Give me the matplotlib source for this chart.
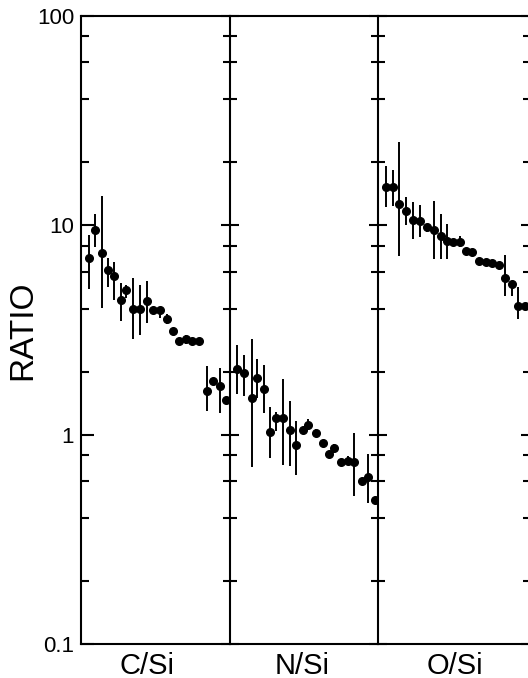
import numpy as np
import matplotlib.pyplot as plt
from matplotlib.ticker import LogLocator, FuncFormatter, NullFormatter

plt.rcParams['font.family'] = ['Liberation Sans', 'DejaVu Sans']

# panel names
names = ['C/Si', 'N/Si', 'O/Si']

# values
# x = position across its panel, v = ratio, hi / lo = ends of the error bar
c_x = [8.3, 13.7, 20.7, 27, 33.3, 39.7, 45, 51.7, 58.5, 65.7, 71.7,
       78.5, 85.7, 91.7, 98.3, 104.5, 111, 117.5, 126, 131.7, 138.5, 145]
c_v = [7.0, 9.5, 7.4, 6.1, 5.7, 4.4, 4.9, 4.0, 4.0, 4.33, 3.92,
       3.92, 3.56, 3.13, 2.81, 2.86, 2.81, 2.81, 1.62, 1.81, 1.71, 1.46]
c_hi = [8.96, 11.3, 13.8, 6.95, 6.7, 5.3, 5.2, 5.6, 5.16, 5.4, 3.92,
        4.05, 3.76, 3.13, 2.81, 3.0, 2.81, 2.81, 2.13, 1.81, 2.09, 1.46]
c_lo = [4.94, 7.9, 4.05, 5.05, 4.4, 3.5, 4.5, 2.85, 3.0, 3.43, 3.92,
        3.6, 3.37, 3.13, 2.81, 2.72, 2.81, 2.81, 1.30, 1.81, 1.27, 1.46]

n_x = [7.3, 14, 21.7, 27.3, 33.7, 39.7, 46.3, 53, 60, 66, 72.7,
       78.3, 85.7, 93, 99, 104.3, 111, 117.7, 124.3, 131.7, 138.3, 145]
n_v = [2.07, 1.96, 1.49, 1.87, 1.65, 1.03, 1.20, 1.20, 1.05, 0.89, 1.05,
       1.11, 1.02, 0.91, 0.81, 0.86, 0.74, 0.75, 0.74, 0.60, 0.63, 0.485]
n_hi = [2.67, 2.39, 2.88, 2.31, 2.15, 1.35, 1.28, 1.84, 1.45, 1.16, 1.05,
        1.19, 1.07, 0.91, 0.81, 0.90, 0.74, 0.79, 1.02, 0.60, 0.805, 0.485]
n_lo = [1.56, 1.53, 0.70, 1.50, 1.27, 0.77, 1.04, 0.72, 0.71, 0.64, 1.05,
        1.05, 0.98, 0.91, 0.81, 0.82, 0.74, 0.72, 0.51, 0.60, 0.47, 0.485]

o_x = [7.7, 14.7, 21.3, 28, 34.7, 42, 48.7, 56.3, 63, 68.7, 74.7,
       82, 88, 94.3, 101, 108, 114.3, 121, 127, 133.7, 139.7, 147]
o_v = [15.2, 15.2, 12.7, 11.7, 10.6, 10.5, 9.8, 9.5, 8.85, 8.4, 8.3,
       8.36, 7.57, 7.48, 6.78, 6.65, 6.58, 6.46, 5.6, 5.24, 4.13, 4.13]
o_hi = [19.3, 18.3, 24.9, 13.7, 12.9, 12.5, 10.2, 13.1, 11.3, 10.1, 8.3,
        8.93, 7.57, 7.48, 6.78, 6.65, 6.58, 6.46, 7.24, 5.24, 5.05, 4.13]
o_lo = [12.3, 12.4, 7.1, 10.0, 8.6, 8.8, 9.3, 6.9, 6.9, 6.9, 8.3,
        7.85, 7.57, 7.48, 6.78, 6.65, 6.58, 6.46, 4.61, 4.61, 3.56, 4.13]

panels = [(c_x, c_v, c_hi, c_lo), (n_x, n_v, n_hi, n_lo), (o_x, o_v, o_hi, o_lo)]

# figure geometry in pixels
W, H = 528, 678
edges = [81, 230, 378, 530]   # last panel runs just past the crop
top, bottom = 16, 644
label_x = [0.443, 0.484, 0.507]   # panel labels sit a bit off centre in the scan

fig = plt.figure(figsize=(W / 100, H / 100), dpi=100)

for i, (x, v, hi, lo) in enumerate(panels):
    l, r = edges[i], edges[i + 1]
    ax = fig.add_axes([l / W, (H - bottom) / H, (r - l) / W, (bottom - top) / H])
    x = np.array(x)
    v = np.array(v)
    yerr = [v - np.array(lo), np.array(hi) - v]
    ax.errorbar(x, v, yerr=yerr, fmt='o', color='black', ms=5.5,
                elinewidth=1.4, capsize=0, clip_on=False)

    ax.set_yscale('log')
    ax.set_ylim(0.1, 100)
    ax.set_xlim(0, r - l)
    ax.yaxis.set_major_locator(LogLocator(base=10))
    ax.yaxis.set_minor_locator(LogLocator(base=10, subs=[2, 4, 6, 8]))
    ax.yaxis.set_minor_formatter(NullFormatter())
    ax.set_xticks([])

    for s in ax.spines.values():
        s.set_linewidth(1.5)

    if i == 0:
        ax.yaxis.set_major_formatter(FuncFormatter(lambda val, _: f'{val:g}'))
        ax.tick_params(axis='y', which='major', direction='in', length=9,
                       width=1.5, labelsize=16, pad=5)
        ax.tick_params(axis='y', which='minor', direction='in', length=6,
                       width=1.5)
    else:
        # dividers get ticks on both sides
        ax.tick_params(axis='y', which='major', direction='inout', length=13,
                       width=1.5, labelleft=False)
        ax.tick_params(axis='y', which='minor', direction='inout', length=9.5,
                       width=1.5)
    if i == 2:
        ax.tick_params(axis='y', which='both', right=True)
    else:
        ax.spines['right'].set_visible(False)

    ax.set_xlabel(names[i], fontsize=21)
    ax.xaxis.set_label_coords(label_x[i], -0.012)

fig.text(23 / W, 1 - 330 / H, 'RATIO', fontsize=24, rotation=90,
         ha='center', va='center')

plt.savefig('out.png', dpi=100)
